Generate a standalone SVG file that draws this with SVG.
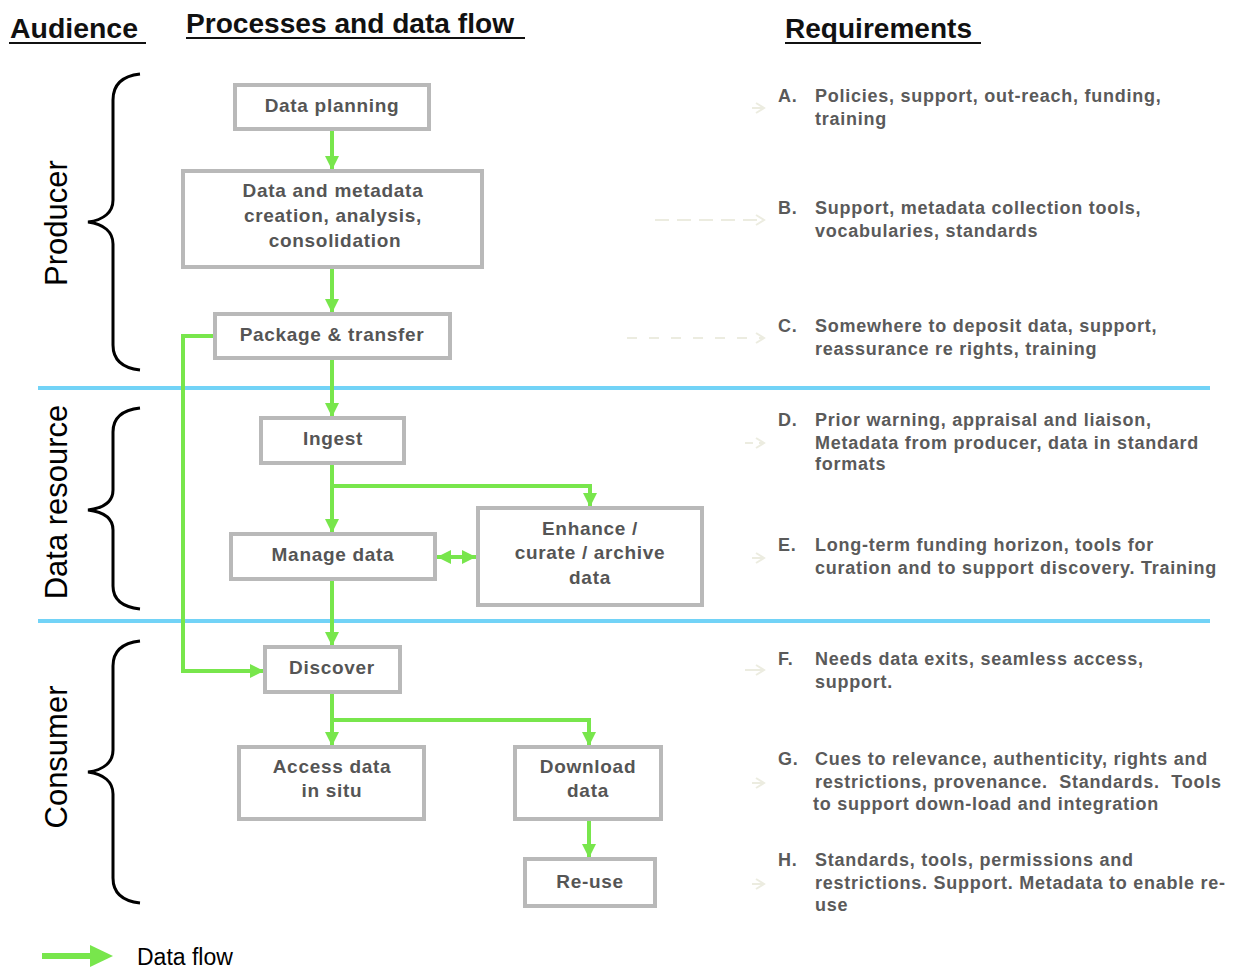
<svg xmlns="http://www.w3.org/2000/svg" width="1234" height="968" viewBox="0 0 1234 968">
<defs>
<style>
.hdr{font-family:"Liberation Sans",Arial,sans-serif;font-weight:bold;font-size:27px;fill:#111}
.aud{font-family:"Liberation Sans",Arial,sans-serif;font-size:31px;fill:#000}
.box{fill:#fff;stroke:#b9b9b9;stroke-width:4}
.bt{font-family:"Liberation Sans",Arial,sans-serif;font-weight:bold;font-size:19px;fill:#555;text-anchor:middle;letter-spacing:0.7px}
.rq{font-family:"Liberation Sans",Arial,sans-serif;font-weight:bold;font-size:18px;fill:#5a5a5a;letter-spacing:0.75px;white-space:pre}
.flow{fill:none;stroke:#78e64c;stroke-width:4}
.brace{fill:none;stroke:#000;stroke-width:3}
.band{stroke:#72d3f7;stroke-width:4}
.faint{fill:none;stroke:#ecece0;stroke-width:2}
</style>
<marker id="ah" markerUnits="userSpaceOnUse" markerWidth="16" markerHeight="16" viewBox="0 0 16 16" refX="14" refY="8" orient="auto-start-reverse">
<path d="M0,1 L14,8 L0,15 Z" fill="#78e64c"/>
</marker>
<marker id="fh" markerUnits="userSpaceOnUse" markerWidth="12" markerHeight="12" viewBox="0 0 12 12" refX="10" refY="6" orient="auto">
<path d="M2,1 L10,6 L2,11" fill="none" stroke="#ecece0" stroke-width="2"/>
</marker>
</defs>
<rect width="1234" height="968" fill="#fff"/>

<g id="headers">
<text class="hdr" x="10" y="38" textLength="128" lengthAdjust="spacingAndGlyphs">Audience</text>
<line x1="9" y1="43" x2="146" y2="43" stroke="#111" stroke-width="2"/>
<text class="hdr" x="186" y="33" textLength="328" lengthAdjust="spacingAndGlyphs">Processes and data flow</text>
<line x1="186" y1="38" x2="525" y2="38" stroke="#111" stroke-width="2"/>
<text class="hdr" x="785" y="38" textLength="187" lengthAdjust="spacingAndGlyphs">Requirements</text>
<line x1="785" y1="43" x2="981" y2="43" stroke="#111" stroke-width="2"/>
</g>

<g id="bands">
<line class="band" x1="38" y1="388" x2="1210" y2="388"/>
<line class="band" x1="38" y1="621" x2="1210" y2="621"/>
</g>

<g id="producer">
<path class="brace" d="M140,74 C122,76 113,84 113,100 L113,200 C113,212 104,220 88,222 C104,224 113,232 113,244 L113,345 C113,360 122,368 140,370"/>
<text class="aud" transform="translate(67,223) rotate(-90)" text-anchor="middle">Producer</text>
</g>
<g id="data-resource">
<path class="brace" d="M140,408 C122,410 113,418 113,432 L113,490 C113,502 104,508 88,510 C104,512 113,518 113,530 L113,586 C113,600 122,607 140,609"/>
<text class="aud" transform="translate(67,502) rotate(-90)" text-anchor="middle">Data resource</text>
</g>
<g id="consumer">
<path class="brace" d="M140,641 C122,643 113,651 113,666 L113,750 C113,762 104,770 88,772 C104,774 113,782 113,794 L113,878 C113,893 122,901 140,903"/>
<text class="aud" transform="translate(67,757) rotate(-90)" text-anchor="middle">Consumer</text>
</g>

<g id="connectors">
<path class="flow" d="M332,130 V170" marker-end="url(#ah)"/>
<path class="flow" d="M332,268 V313" marker-end="url(#ah)"/>
<path class="flow" d="M332,359 V417" marker-end="url(#ah)"/>
<path class="flow" d="M332,464 V533" marker-end="url(#ah)"/>
<path class="flow" d="M332,486 H590 V507" marker-end="url(#ah)"/>
<path class="flow" d="M437,557 H476" marker-start="url(#ah)" marker-end="url(#ah)"/>
<path class="flow" d="M332,580 V646" marker-end="url(#ah)"/>
<path class="flow" d="M214,336 H183 V671 H264" marker-end="url(#ah)"/>
<path class="flow" d="M332,693 V746" marker-end="url(#ah)"/>
<path class="flow" d="M332,720 H589 V746" marker-end="url(#ah)"/>
<path class="flow" d="M589,820 V858" marker-end="url(#ah)"/>
<path class="faint" d="M752,108 H764" marker-end="url(#fh)"/>
<path class="faint" d="M655,220 H764" stroke-dasharray="14,8" marker-end="url(#fh)"/>
<path class="faint" d="M627,338 H764" stroke-dasharray="10,12" marker-end="url(#fh)"/>
<path class="faint" d="M745,443 H764" stroke-dasharray="8,6" marker-end="url(#fh)"/>
<path class="faint" d="M752,558 H764" marker-end="url(#fh)"/>
<path class="faint" d="M745,670 H764" marker-end="url(#fh)"/>
<path class="faint" d="M752,783 H764" marker-end="url(#fh)"/>
<path class="faint" d="M752,884 H764" marker-end="url(#fh)"/>
</g>

<g id="data-planning">
<rect class="box" x="235" y="85" width="194" height="44"/>
<text class="bt" x="332" y="112">Data planning</text>
</g>
<g id="data-creation">
<rect class="box" x="183" y="171" width="299" height="96"/>
<text class="bt" x="333" y="197">Data and metadata</text>
<text class="bt" x="333" y="222">creation, analysis,</text>
<text class="bt" x="335" y="247">consolidation</text>
</g>
<g id="package-transfer">
<rect class="box" x="215" y="314" width="235" height="44"/>
<text class="bt" x="332" y="341">Package &amp; transfer</text>
</g>
<g id="ingest">
<rect class="box" x="261" y="418" width="143" height="45"/>
<text class="bt" x="333" y="445">Ingest</text>
</g>
<g id="manage-data">
<rect class="box" x="231" y="534" width="204" height="45"/>
<text class="bt" x="333" y="561">Manage data</text>
</g>
<g id="enhance">
<rect class="box" x="478" y="508" width="224" height="97"/>
<text class="bt" x="590" y="535">Enhance /</text>
<text class="bt" x="590" y="559">curate / archive</text>
<text class="bt" x="590" y="584">data</text>
</g>
<g id="discover">
<rect class="box" x="265" y="647" width="135" height="45"/>
<text class="bt" x="332" y="674">Discover</text>
</g>
<g id="access-data">
<rect class="box" x="239" y="747" width="185" height="72"/>
<text class="bt" x="332" y="773">Access data</text>
<text class="bt" x="332" y="797">in situ</text>
</g>
<g id="download-data">
<rect class="box" x="515" y="747" width="146" height="72"/>
<text class="bt" x="588" y="773">Download</text>
<text class="bt" x="588" y="797">data</text>
</g>
<g id="re-use">
<rect class="box" x="525" y="859" width="130" height="47"/>
<text class="bt" x="590" y="888">Re-use</text>
</g>

<g id="requirements">
<text class="rq" x="778" y="102">A.</text>
<text class="rq" x="815" y="102">Policies, support, out-reach, funding,</text>
<text class="rq" x="815" y="125">training</text>
<text class="rq" x="778" y="214">B.</text>
<text class="rq" x="815" y="214">Support, metadata collection tools,</text>
<text class="rq" x="815" y="237">vocabularies, standards</text>
<text class="rq" x="778" y="332">C.</text>
<text class="rq" x="815" y="332">Somewhere to deposit data, support,</text>
<text class="rq" x="815" y="355">reassurance re rights, training</text>
<text class="rq" x="778" y="426">D.</text>
<text class="rq" x="815" y="426">Prior warning, appraisal and liaison,</text>
<text class="rq" x="815" y="449">Metadata from producer, data in standard</text>
<text class="rq" x="815" y="470">formats</text>
<text class="rq" x="778" y="551">E.</text>
<text class="rq" x="815" y="551">Long-term funding horizon, tools for</text>
<text class="rq" x="815" y="574">curation and to support discovery. Training</text>
<text class="rq" x="778" y="665">F.</text>
<text class="rq" x="815" y="665">Needs data exits, seamless access,</text>
<text class="rq" x="815" y="688">support.</text>
<text class="rq" x="778" y="765">G.</text>
<text class="rq" x="815" y="765">Cues to relevance, authenticity, rights and</text>
<text class="rq" x="815" y="788">restrictions, provenance.&#160; Standards.&#160; Tools</text>
<text class="rq" x="813" y="810">to support down-load and integration</text>
<text class="rq" x="778" y="866">H.</text>
<text class="rq" x="815" y="866">Standards, tools, permissions and</text>
<text class="rq" x="815" y="889">restrictions. Support. Metadata to enable re-</text>
<text class="rq" x="815" y="911">use</text>
</g>

<g id="legend">
<line x1="42" y1="956" x2="94" y2="956" stroke="#78e64c" stroke-width="6"/>
<path d="M90,945 L113,956 L90,967 Z" fill="#78e64c"/>
<text x="137" y="965" font-family="'Liberation Sans',Arial,sans-serif" font-size="23" fill="#000">Data flow</text>
</g>
</svg>
